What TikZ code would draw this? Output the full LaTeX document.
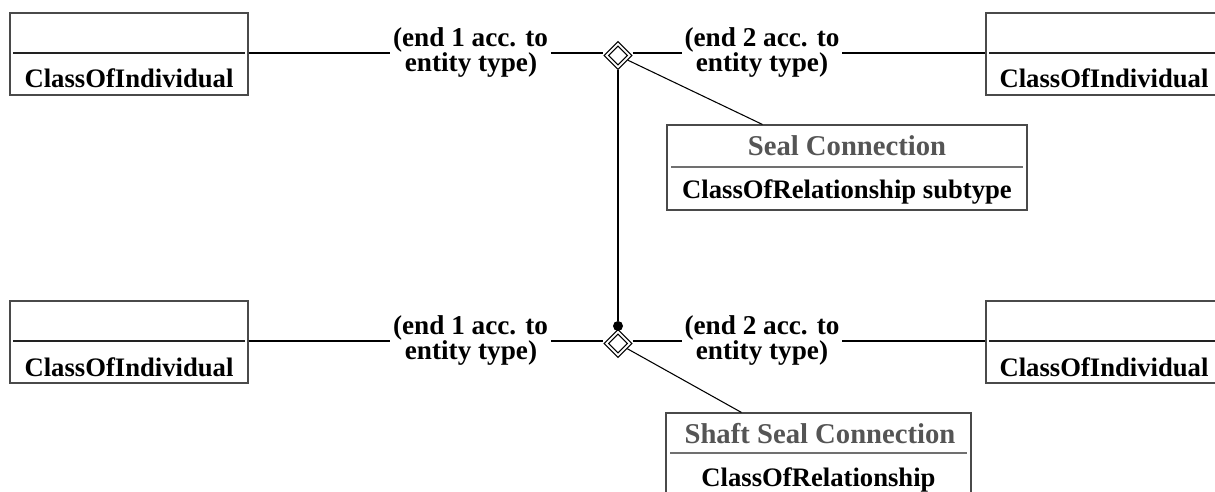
\documentclass[tikz,border=0pt]{standalone}
\usepackage{fontspec}
\setmainfont{Liberation Serif}
\usetikzlibrary{shapes.geometric}
\definecolor{frame}{HTML}{4A4A4A}
\definecolor{rule}{HTML}{222222}
\definecolor{softrule}{HTML}{707070}
\definecolor{titlegray}{HTML}{555555}
\tikzset{
  classbox/.style={draw=frame, line width=0.8pt, inner sep=0pt, fill=white},
  bodytext/.style={font=\bfseries\fontsize{20}{24}\selectfont, inner sep=0pt, anchor=base},
  titletext/.style={font=\bfseries\fontsize{21.5}{25}\selectfont, text=titlegray, inner sep=0pt, anchor=base},
  endlabel/.style={font=\bfseries\fontsize{20.4}{24}\selectfont, inner xsep=2pt, inner ysep=0pt, anchor=base},
  link/.style={draw=black, line width=0.8pt},
  divider/.style={draw=rule, line width=0.8pt},
  softdivider/.style={draw=softrule, line width=0.8pt},
  relmark/.style={diamond, aspect=1, draw=black, line width=0.8pt, inner sep=0pt, minimum size=#1},
  joint/.style={circle, fill=black, inner sep=0pt, minimum size=7.5pt},
}
\begin{document}
\begin{tikzpicture}[x=0.75pt, y=-0.75pt]
  \useasboundingbox (0,0) rectangle (1215,492);
  \clip (0,0) rectangle (1215,492);
  \fill[white] (0,0) rectangle (1215,492);

  % rows of the two associations
  \coordinate (row1) at (0,53);
  \coordinate (row2) at (0,341);

  % ---------- upper association ----------
  \node[classbox, minimum width=178.5pt, minimum height=61.5pt] (L1) at (129,54) {};
  \draw[divider] ([xshift=3pt]L1.west |- row1) -- ([xshift=-3pt]L1.east |- row1);
  \node[bodytext] (L1t) at (129,88) {ClassOfIndividual};

  \node[classbox, minimum width=178.5pt, minimum height=61.5pt] (R1) at (1105,54) {};
  \draw[divider] ([xshift=3pt]R1.west |- row1) -- ([xshift=-3pt]R1.east |- row1);
  \node[bodytext] (R1t) at (1104,88) {ClassOfIndividual};

  \node[relmark=21pt] (D1) at (618,55.5) {};
  \node[relmark=14.25pt] (D1i) at (618,55.5) {};

  \node[endlabel] (E1) at (470.5,46.5) {(end 1 acc. to};
  \node[endlabel] (E1b) at (471,71.8) {entity type)};
  \node[endlabel] (F1) at (762,46.5) {(end 2 acc. to};
  \node[endlabel] (F1b) at (762,71.8) {entity type)};

  \draw[link] (L1.east |- row1) -- (E1.west |- row1);
  \draw[link] (E1.east |- row1) -- (D1.west |- row1);
  \draw[link] (D1.east |- row1) -- (F1.west |- row1);
  \draw[link] (F1.east |- row1) -- (R1.west |- row1);

  \node[classbox, minimum width=270pt, minimum height=63.75pt] (S1) at (847,167.5) {};
  \coordinate (S1row) at (0,167);
  \draw[softdivider] ([xshift=3.75pt]S1.west |- S1row) -- ([xshift=-3.75pt]S1.east |- S1row);
  \node[titletext] (S1t) at (847,156) {Seal Connection};
  \node[bodytext] (S1b) at (847,198) {ClassOfRelationship subtype};
  \path (S1.north west) ++(96,0) coordinate (S1a);
  \draw[link] (D1) -- (S1a);

  % ---------- lower association ----------
  \node[classbox, minimum width=178.5pt, minimum height=61.5pt] (L2) at (129,342) {};
  \draw[divider] ([xshift=3pt]L2.west |- row2) -- ([xshift=-3pt]L2.east |- row2);
  \node[bodytext] (L2t) at (129,376) {ClassOfIndividual};

  \node[classbox, minimum width=178.5pt, minimum height=61.5pt] (R2) at (1105,342) {};
  \draw[divider] ([xshift=3pt]R2.west |- row2) -- ([xshift=-3pt]R2.east |- row2);
  \node[bodytext] (R2t) at (1104,376) {ClassOfIndividual};

  \node[relmark=21pt] (D2) at (618,343.5) {};
  \node[relmark=14.25pt] (D2i) at (618,343.5) {};

  \node[endlabel] (E2) at (470.5,334.5) {(end 1 acc. to};
  \node[endlabel] (E2b) at (471,359.8) {entity type)};
  \node[endlabel] (F2) at (762,334.5) {(end 2 acc. to};
  \node[endlabel] (F2b) at (762,359.8) {entity type)};

  \draw[link] (L2.east |- row2) -- (E2.west |- row2);
  \draw[link] (E2.east |- row2) -- (D2.west |- row2);
  \draw[link] (D2.east |- row2) -- (F2.west |- row2);
  \draw[link] (F2.east |- row2) -- (R2.west |- row2);

  \node[classbox, minimum width=228.75pt, minimum height=63.75pt] (S2) at (818.5,455.5) {};
  \coordinate (S2row) at (0,453);
  \draw[softdivider] ([xshift=3.75pt]S2.west |- S2row) -- ([xshift=-3.75pt]S2.east |- S2row);
  \node[titletext] (S2t) at (820,443) {Shaft Seal Connection};
  \node[bodytext] (S2b) at (818.5,486.5) {ClassOfRelationship};
  \path (S2.north west) ++(76,0) coordinate (S2a);
  \draw[link] (D2) -- (S2a);

  % ---------- link between the two relationship marks ----------
  \node[joint] (J) at (618,326) {};
  \draw[link] (D1.south) -- (J);
\end{tikzpicture}
\end{document}
